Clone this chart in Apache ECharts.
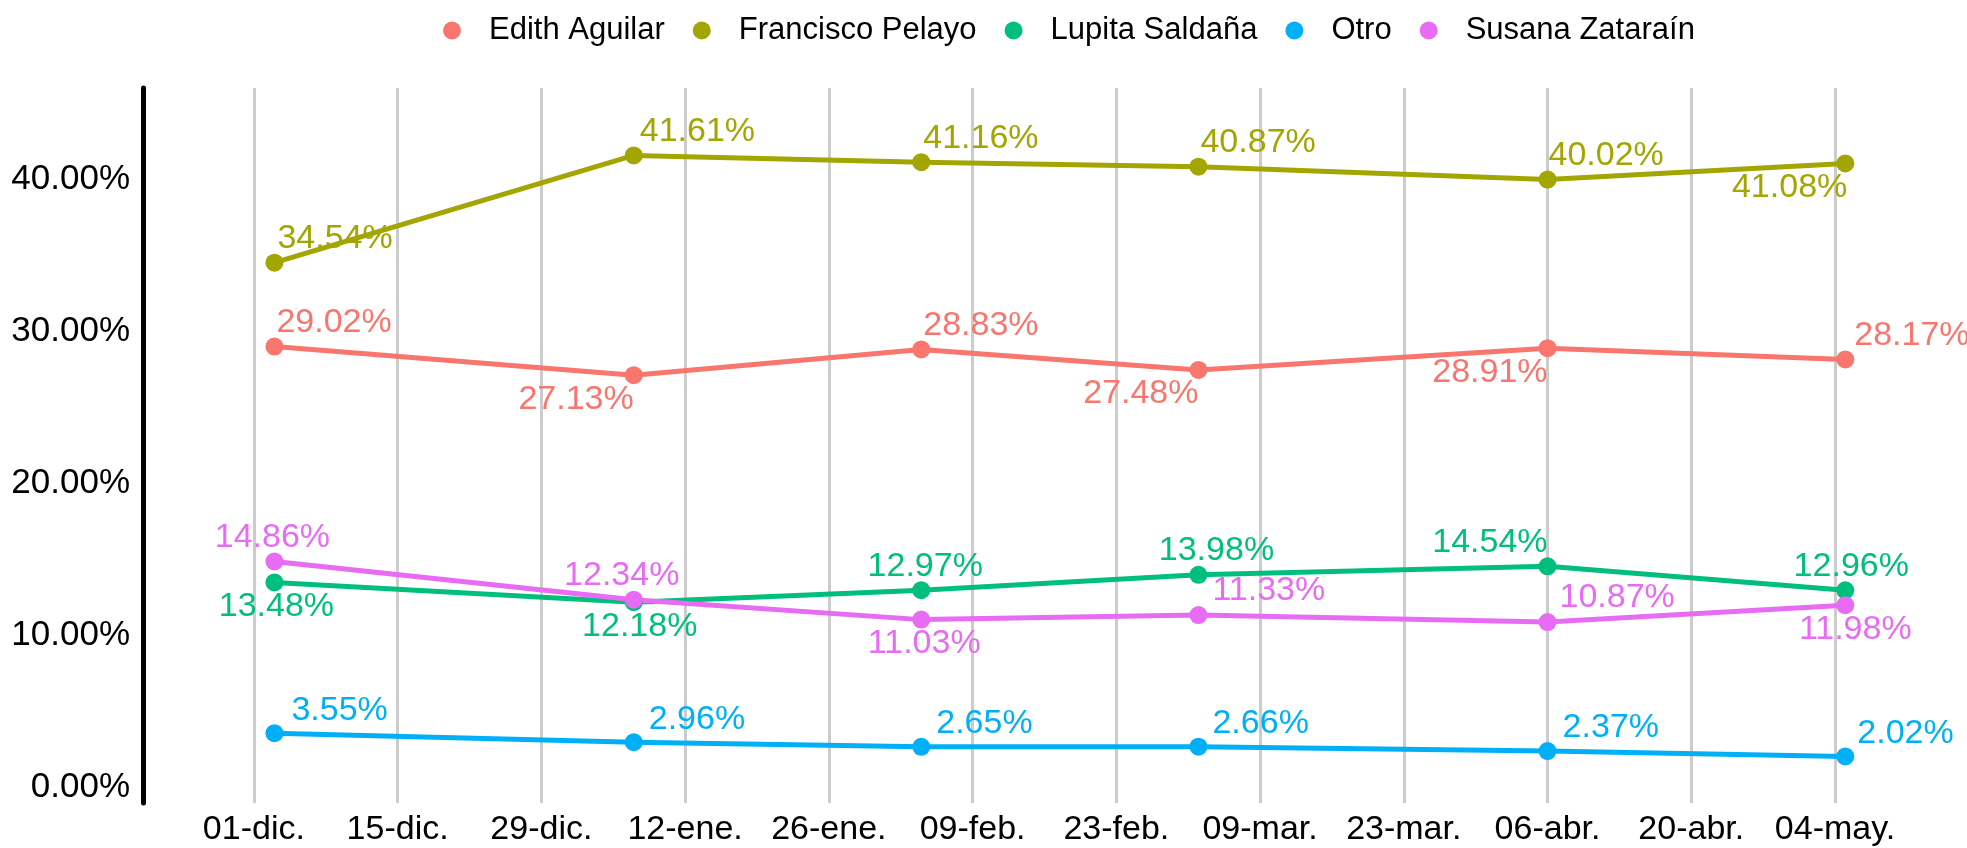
<!DOCTYPE html>
<html>
<head>
<meta charset="utf-8">
<script src="https://cdn.jsdelivr.net/npm/echarts@6/dist/echarts.min.js"></script>
<style>
  html, body { margin: 0; padding: 0; background: #fff; }
  #chart { width: 1967px; height: 848px; }
</style>
</head>
<body>
<div id="chart"></div>
<script>
// fechas de cada medición
const fechas = ['2020-12-03', '2021-01-07', '2021-02-04', '2021-03-03', '2021-04-06', '2021-05-05'];

const candidatos = ['Edith Aguilar', 'Francisco Pelayo', 'Lupita Saldaña', 'Otro', 'Susana Zataraín'];
const edith = [29.02, 27.13, 28.83, 27.48, 28.91, 28.17];
const francisco = [34.54, 41.61, 41.16, 40.87, 40.02, 41.08];
const lupita = [13.48, 12.18, 12.97, 13.98, 14.54, 12.96];
const otro = [3.55, 2.96, 2.65, 2.66, 2.37, 2.02];
const susana = [14.86, 12.34, 11.03, 11.33, 10.87, 11.98];

// etiquetas del eje x (cada 14 días)
const tickFechas = ['2020-12-01', '2020-12-15', '2020-12-29', '2021-01-12', '2021-01-26', '2021-02-09',
  '2021-02-23', '2021-03-09', '2021-03-23', '2021-04-06', '2021-04-20', '2021-05-04'];
const tickEtiquetas = ['01-dic.', '15-dic.', '29-dic.', '12-ene.', '26-ene.', '09-feb.',
  '23-feb.', '09-mar.', '23-mar.', '06-abr.', '20-abr.', '04-may.'];
const yTicks = [0, 10, 20, 30, 40];

const colores = ['#F8766D', '#A3A500', '#00BF7D', '#00B0F6', '#E76BF3'];

// donde va cada etiqueta: [align, dx, dy] en px desde el punto
const posEtiquetas = [
  [['left', 2, -24], ['right', 0, 24], ['left', 2, -24], ['right', 0, 24], ['right', 0, 24], ['left', 9, -24]],
  [['left', 3, -24], ['left', 6, -24], ['left', 2, -24], ['left', 2, -24], ['left', 1, -24], ['right', 2, 24]],
  [['center', 2, 24], ['center', 6, 24], ['center', 4, -24], ['center', 18, -24], ['right', 0, -24], ['center', 6, -24]],
  [['left', 17, -23], ['left', 15, -23], ['left', 15, -23], ['left', 14, -23], ['left', 15, -23], ['left', 12, -23]],
  [['center', -2, -24], ['center', -12, -24], ['center', 3, 24], ['left', 14, -24], ['left', 12, -24], ['center', 10, 24]]
];

const DIA = 24 * 3600 * 1000;
const t = s => new Date(s).getTime();
const tickValores = tickFechas.map(t);
const t0 = t('2020-12-01');
const fuente = 'Liberation Sans, Arial, sans-serif';
const TAM = 18; // tamaño del punto

const valores = [edith, francisco, lupita, otro, susana];

const series = candidatos.map((nombre, i) => ({
  name: nombre,
  type: 'line',
  symbol: 'circle',
  symbolSize: TAM,
  color: colores[i],
  lineStyle: { width: 5, color: colores[i] },
  itemStyle: { color: colores[i] },
  label: {
    show: true,
    verticalAlign: 'middle',
    fontSize: 34,
    fontFamily: fuente,
    color: colores[i],
    formatter: p => p.value[1].toFixed(2) + '%'
  },
  labelLayout: { hideOverlap: false },
  data: valores[i].map((v, j) => ({
    value: [t(fechas[j]), v],
    label: {
      align: posEtiquetas[i][j][0],
      verticalAlign: 'middle',
      position: [TAM / 2 + posEtiquetas[i][j][1], TAM / 2 + posEtiquetas[i][j][2]]
    }
  }))
}));

const chart = echarts.init(document.getElementById('chart'));
chart.setOption({
  animation: false,
  backgroundColor: '#fff',
  textStyle: { fontFamily: fuente },
  legend: {
    top: 10,
    left: 438,
    icon: 'circle',
    itemWidth: 18,
    itemHeight: 18,
    itemGap: 28,
    textStyle: { fontSize: 31, color: '#000', fontFamily: fuente, padding: [0, 0, 0, 23] },
    data: candidatos
  },
  grid: { left: 143, right: 17, top: 88, bottom: 45, containLabel: false },
  xAxis: {
    type: 'value',
    min: t0 - 10.8 * DIA,
    max: t0 + 165.2 * DIA,
    axisLine: { show: false, onZero: false },
    axisTick: { show: false, customValues: tickValores },
    splitLine: { show: true, lineStyle: { color: '#cccccc', width: 3 } },
    axisLabel: {
      customValues: tickValores,
      fontSize: 34,
      color: '#000',
      fontFamily: fuente,
      margin: 10,
      formatter: v => {
        const k = tickValores.indexOf(v);
        return k >= 0 ? tickEtiquetas[k] : '';
      }
    }
  },
  yAxis: {
    type: 'value',
    min: -1.05,
    max: 46.05,
    axisLine: { show: true, onZero: false, lineStyle: { color: '#000', width: 5 } },
    axisTick: { show: false, customValues: yTicks },
    splitLine: { show: false },
    axisLabel: {
      customValues: yTicks,
      fontSize: 35,
      color: '#000',
      fontFamily: fuente,
      margin: 13,
      formatter: v => v.toFixed(2) + '%'
    }
  },
  series: series
});
</script>
</body>
</html>
